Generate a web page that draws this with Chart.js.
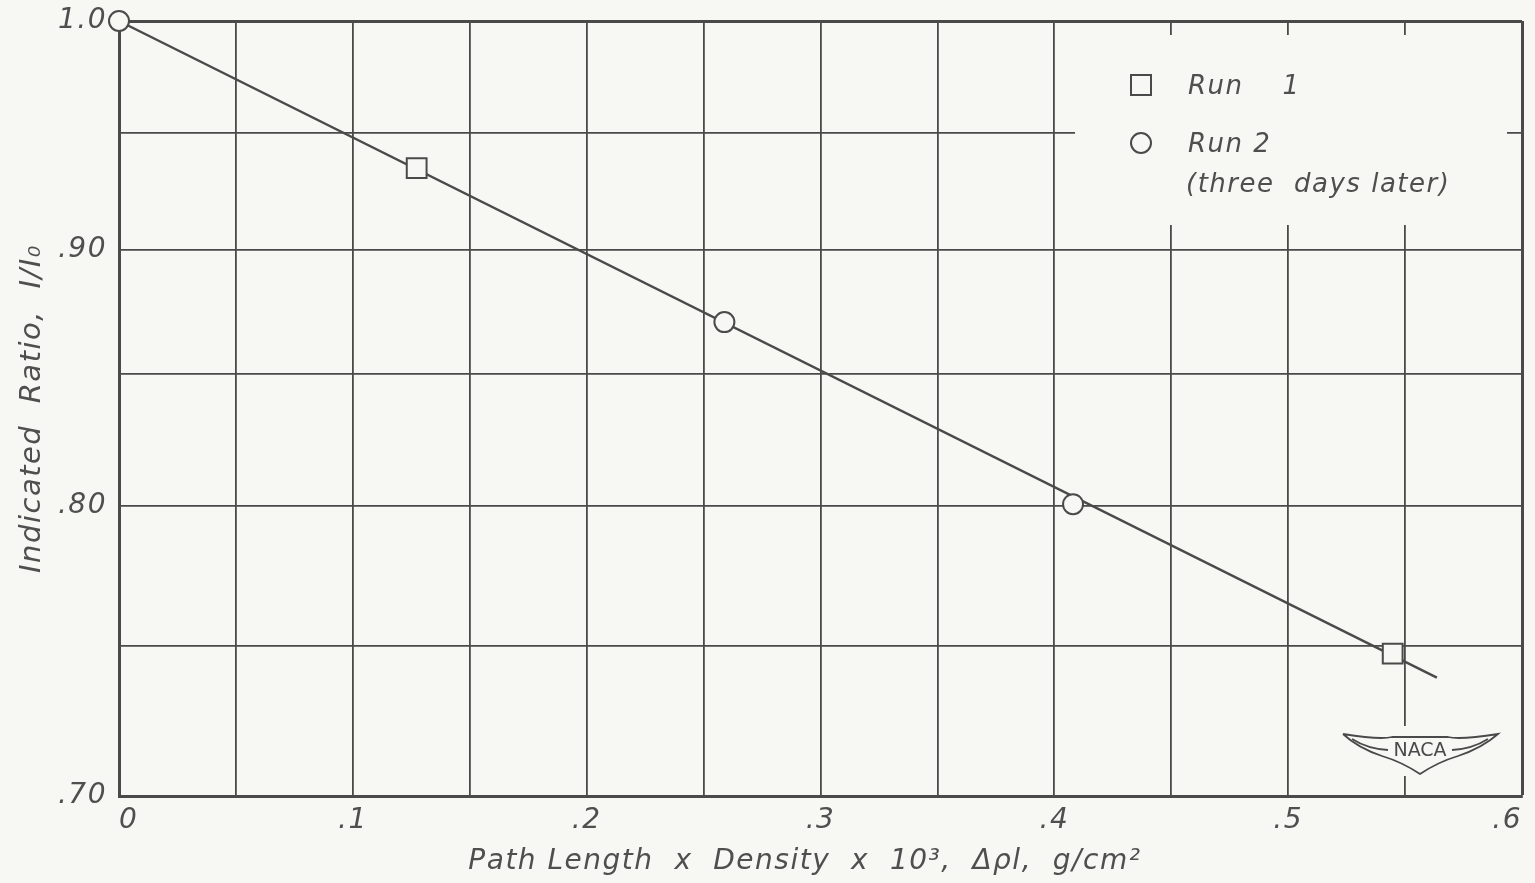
<!DOCTYPE html>
<html>
<head>
<meta charset="utf-8">
<script src="https://cdn.jsdelivr.net/npm/chart.js@4.4.1/dist/chart.umd.min.js"></script>
<style>
  html, body { margin: 0; padding: 0; background: #f7f7f3; }
  #wrap { width: 1535px; height: 883px; }
</style>
</head>
<body>
<div id="wrap"><canvas id="chart" width="1535" height="883"></canvas></div>
<script>
// --- data
const xTicks = [0, 0.05, 0.1, 0.15, 0.2, 0.25, 0.3, 0.35, 0.4, 0.45, 0.5, 0.55, 0.6];
const xTickLabels = ["0", "", ".1", "", ".2", "", ".3", "", ".4", "", ".5", "", ".6"];
const yTicks = [0.70, 0.75, 0.80, 0.85, 0.90, 0.95, 1.0];
const yTickLabels = [".70", "", ".80", "", ".90", "", "1.0"];

const run1X = [0.1273, 0.5447];
const run1Y = [0.9345, 0.7474];
const run2X = [0, 0.2589, 0.408];
const run2Y = [1.0, 0.8706, 0.8006];
const fitX = [0, 0.5636];
const fitY = [1.0, 0.7392];

const BG = "#f7f7f3";
const INK = "#4a4a4a";
const TXT = "#4f4f4f";
const FONT = "'DejaVu Sans', sans-serif";

const pts = (xs, ys) => xs.map((x, i) => ({ x, y: ys[i] }));

// paper background + wide lettering
const paperPlugin = {
  id: "paper",
  beforeDraw(chart) {
    const { ctx, width, height } = chart;
    ctx.fillStyle = BG;
    ctx.fillRect(0, 0, width, height);
    ctx.letterSpacing = "1.5px";
  }
};

// legend box (blanks the grid) + NACA wings
const legendPlugin = {
  id: "naca-legend",
  beforeDatasetsDraw(chart) {
    const { ctx, chartArea: a } = chart;
    ctx.save();
    ctx.fillStyle = BG;
    ctx.fillRect(a.right - 447, a.top + 14, 432, 190);
    // logo area
    ctx.fillRect(a.right - 150, a.bottom - 70, 130, 50);
    ctx.restore();
  },
  afterDatasetsDraw(chart) {
    const { ctx, chartArea: a } = chart;
    const lx = a.right - 381;
    ctx.save();
    ctx.strokeStyle = INK;
    ctx.lineWidth = 2;
    // square
    ctx.strokeRect(lx - 10, a.top + 54, 20, 20);
    // circle
    ctx.beginPath();
    ctx.arc(lx, a.top + 122, 10, 0, Math.PI * 2);
    ctx.stroke();
    ctx.fillStyle = TXT;
    ctx.font = "italic 26px " + FONT;
    ctx.textBaseline = "middle";
    ctx.textAlign = "left";
    ctx.fillText("Run    1", lx + 47, a.top + 66);
    ctx.fillText("Run 2", lx + 47, a.top + 124);
    ctx.fillText("(three  days later)", lx + 45, a.top + 164);

    // NACA wings
    const cx = a.right - 102, cy = a.bottom - 50;
    ctx.lineWidth = 1.8;
    ctx.beginPath();
    ctx.moveTo(cx - 77, cy - 12);
    ctx.quadraticCurveTo(cx - 40, cy - 6, cx - 28, cy - 9);
    ctx.lineTo(cx + 28, cy - 9);
    ctx.quadraticCurveTo(cx + 40, cy - 6, cx + 78, cy - 12);
    ctx.quadraticCurveTo(cx + 62, cy + 2, cx + 38, cy + 10);
    ctx.quadraticCurveTo(cx + 18, cy + 16, cx, cy + 28);
    ctx.quadraticCurveTo(cx - 18, cy + 16, cx - 38, cy + 10);
    ctx.quadraticCurveTo(cx - 62, cy + 2, cx - 77, cy - 12);
    ctx.stroke();
    ctx.beginPath();
    ctx.moveTo(cx - 68, cy - 7);
    ctx.quadraticCurveTo(cx - 52, cy + 3, cx - 32, cy + 4);
    ctx.moveTo(cx + 68, cy - 7);
    ctx.quadraticCurveTo(cx + 52, cy + 3, cx + 32, cy + 4);
    ctx.stroke();
    ctx.letterSpacing = "0px";
    ctx.font = "19px " + FONT;
    ctx.textAlign = "center";
    ctx.fillStyle = INK;
    ctx.fillText("NACA", cx, cy + 5);
    ctx.restore();
  }
};

const gridWidth = (edgeVal) => (c) => (c.tick && Math.abs(c.tick.value - edgeVal) < 1e-9 ? 3 : 1.8);

new Chart(document.getElementById("chart"), {
  type: "scatter",
  data: {
    datasets: [
      {
        label: "fit",
        data: pts(fitX, fitY),
        showLine: true,
        borderColor: INK,
        borderWidth: 2.5,
        pointRadius: 0,
        order: 3,
        clip: false
      },
      {
        label: "Run 1",
        data: pts(run1X, run1Y),
        pointStyle: "rect",
        pointRadius: 14,
        pointBorderWidth: 2,
        pointBorderColor: INK,
        pointBackgroundColor: BG,
        order: 1,
        clip: false
      },
      {
        label: "Run 2",
        data: pts(run2X, run2Y),
        pointStyle: "circle",
        pointRadius: 10,
        pointBorderWidth: 2,
        pointBorderColor: INK,
        pointBackgroundColor: BG,
        order: 2,
        clip: false
      }
    ]
  },
  options: {
    responsive: false,
    animation: false,
    layout: { autoPadding: false, padding: { top: 21, right: 13, left: 0, bottom: 0 } },
    plugins: { legend: { display: false }, tooltip: { enabled: false } },
    scales: {
      x: {
        type: "linear",
        min: 0,
        max: 0.6,
        afterBuildTicks: (s) => { s.ticks = xTicks.map(v => ({ value: v })); },
        afterFit: (s) => { s.height = 87; },
        ticks: {
          autoSkip: false,
          maxRotation: 0,
          align: "inner",
          padding: 8,
          color: TXT,
          font: { family: FONT, size: 28, style: "italic" },
          callback: (v, i) => xTickLabels[i]
        },
        grid: { color: INK, lineWidth: gridWidth(0.6), drawTicks: false },
        border: { display: true, color: INK, width: 3 },
        title: {
          display: true,
          text: "Path Length  x  Density  x  10³,  Δρl,  g/cm²   ",
          color: TXT,
          font: { family: FONT, size: 28, style: "italic" },
          padding: { top: 0, bottom: 4 }
        }
      },
      y: {
        type: "logarithmic",
        min: 0.7,
        max: 1.0,
        afterBuildTicks: (s) => { s.ticks = yTicks.map(v => ({ value: v })); },
        afterFit: (s) => { s.width = 119; s.paddingTop = 0; s.paddingBottom = 0; },
        ticks: {
          autoSkip: false,
          padding: 12,
          color: TXT,
          font: { family: FONT, size: 28, style: "italic" },
          callback: (v, i) => yTickLabels[i]
        },
        grid: { color: INK, lineWidth: gridWidth(1.0), drawTicks: false },
        border: { display: true, color: INK, width: 3 },
        title: {
          display: true,
          text: "Indicated  Ratio,  I/I₀",
          color: TXT,
          font: { family: FONT, size: 29, style: "italic" },
          padding: { top: 15, bottom: 0 }
        }
      }
    }
  },
  plugins: [paperPlugin, legendPlugin]
});
</script>
</body>
</html>
